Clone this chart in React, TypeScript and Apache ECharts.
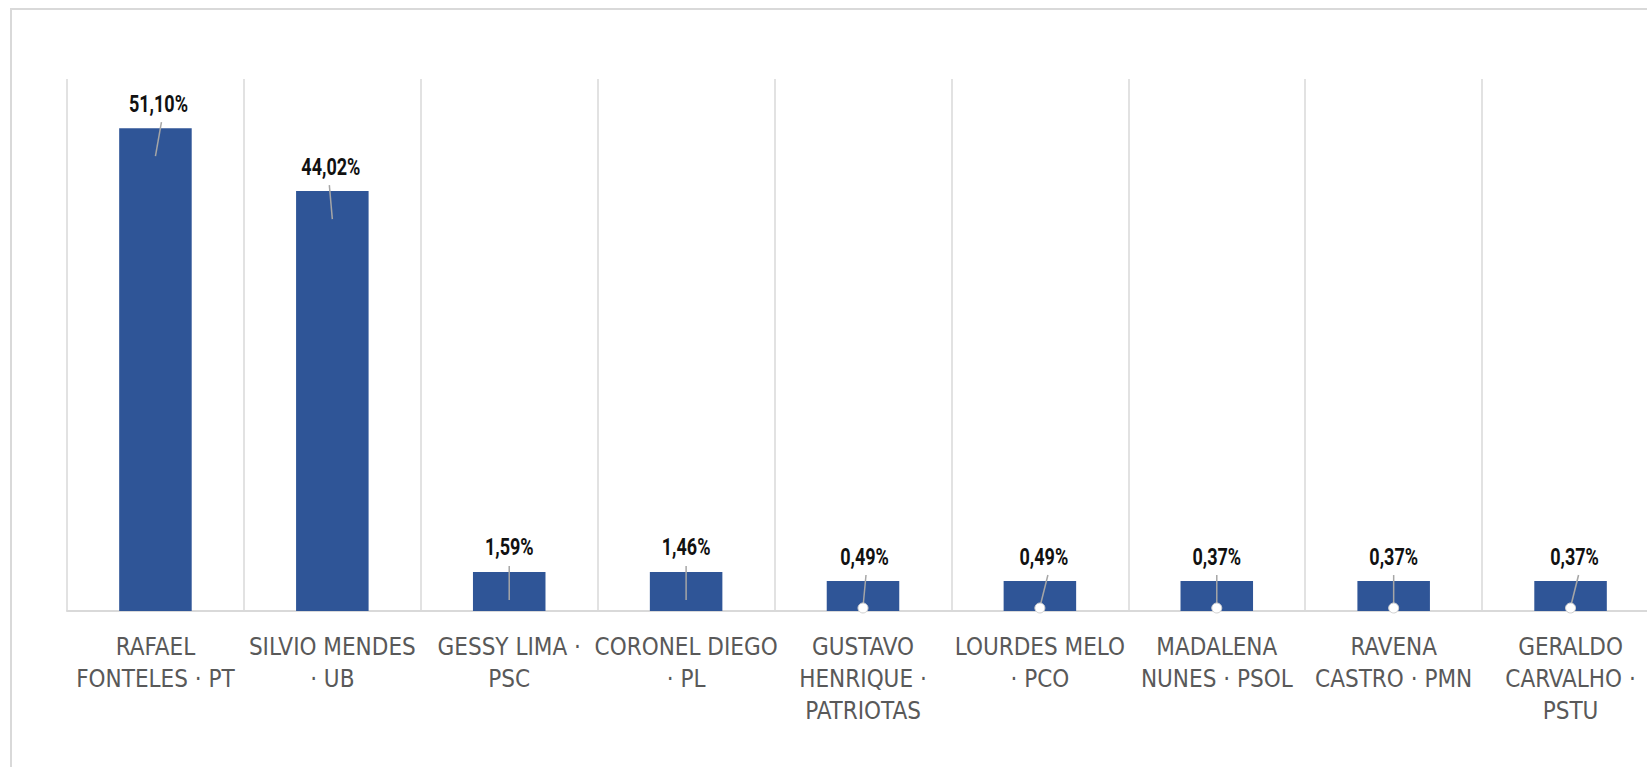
import React, { useEffect, useRef } from "react";
import * as echarts from "echarts";

// Candidates (line breaks as in the original chart)
const candidates: string[] = [
  "RAFAEL\nFONTELES · PT",
  "SILVIO MENDES\n· UB",
  "GESSY LIMA ·\nPSC",
  "CORONEL DIEGO\n· PL",
  "GUSTAVO\nHENRIQUE ·\nPATRIOTAS",
  "LOURDES MELO\n· PCO",
  "MADALENA\nNUNES · PSOL",
  "RAVENA\nCASTRO · PMN",
  "GERALDO\nCARVALHO ·\nPSTU",
];

// Percentages printed in the data labels
const voteShare: number[] = [51.1, 44.02, 1.59, 1.46, 0.49, 0.49, 0.37, 0.37, 0.37];

// Bar heights as drawn in the picture (same % scale; small bars are drawn taller than their labels)
const barHeight: number[] = [51.1, 44.44, 4.13, 4.13, 3.17, 3.17, 3.17, 3.17, 3.17];

// Axis range
const yMax = 56.3;

// Leader-line tilt of each data label (px, top end relative to bar centre)
const leaderTilt: number[] = [6, -3, 0, 0, 3, 8, 0, 0, 8];

const AXIS_FONT = "'Liberation Sans Narrow', 'DejaVu Sans Condensed', 'Roboto Condensed', 'Arial Narrow', sans-serif";
const VALUE_FONT = "Roboto, 'Liberation Sans', sans-serif";

export default function App() {
  const ref = useRef<HTMLDivElement>(null);

  useEffect(() => {
    if (!ref.current) return;
    const chart = echarts.init(ref.current, undefined, { renderer: "svg" });
    chart.setOption({
      animation: false,
      backgroundColor: "#ffffff",
      graphic: [
        {
          type: "rect",
          shape: { x: 11, y: 9, width: 1700, height: 800 },
          style: { fill: "none", stroke: "#d9d9d9", lineWidth: 2 },
          silent: true,
          z: -1,
        },
      ],
      grid: {
        left: 67,
        top: 79,
        right: -12,
        bottom: 156,
        containLabel: false,
        outerBoundsMode: "none",
      },
      xAxis: {
        type: "category",
        data: candidates,
        boundaryGap: true,
        axisTick: { show: false },
        axisLine: { show: true, lineStyle: { color: "#d9d9d9", width: 2 } },
        splitLine: { show: true, interval: 0, lineStyle: { color: "#d9d9d9", width: 1.5 } },
        axisLabel: {
          interval: 0,
          margin: 20,
          color: "#595959",
          fontFamily: AXIS_FONT,
          fontSize: 24,
          lineHeight: 32,
          align: "center",
        },
      },
      yAxis: {
        type: "value",
        min: 0,
        max: yMax,
        show: false,
        splitLine: { show: false },
      },
      series: [
        {
          type: "bar",
          data: barHeight,
          barWidth: "41%",
          itemStyle: { color: "#2f5597" },
        },
        {
          type: "custom",
          data: barHeight.map((v, i) => [i, v]),
          silent: true,
          z: 3,
          renderItem: (params: any, api: any) => {
            const i = api.value(0);
            const v = api.value(1);
            const top = api.coord([i, v]);
            const base = api.coord([i, 0]);
            const x = top[0];
            const y0 = top[1] - 6;
            const reaches = top[1] + 28 >= base[1] - 4;
            const y1 = reaches ? base[1] - 4 : top[1] + 28;
            const children: any[] = [
              {
                type: "line",
                shape: { x1: x + leaderTilt[i], y1: y0, x2: x, y2: y1 },
                style: { stroke: "#a6a6a6", lineWidth: 1.5 },
              },
            ];
            if (reaches) {
              children.push({
                type: "circle",
                shape: { cx: x, cy: base[1] - 3, r: 5 },
                style: { fill: "#ffffff", stroke: "#d0d0d0", lineWidth: 1 },
              });
            }
            children.push({
              type: "text",
              x: x + leaderTilt[i] * 0.5,
              y: top[1] - 25,
              scaleX: 0.75,
              style: {
                text: voteShare[i].toFixed(2).replace(".", ",") + "%",
                fill: "#111111",
                font: "bold 24px " + VALUE_FONT,
                textAlign: "center",
                textVerticalAlign: "middle",
              },
            });
            return { type: "group", children };
          },
        },
      ],
    });
    return () => chart.dispose();
  }, []);

  return (
    <div
      ref={ref}
      style={{ position: "absolute", left: 0, top: 0, width: 1647, height: 767 }}
    />
  );
}
